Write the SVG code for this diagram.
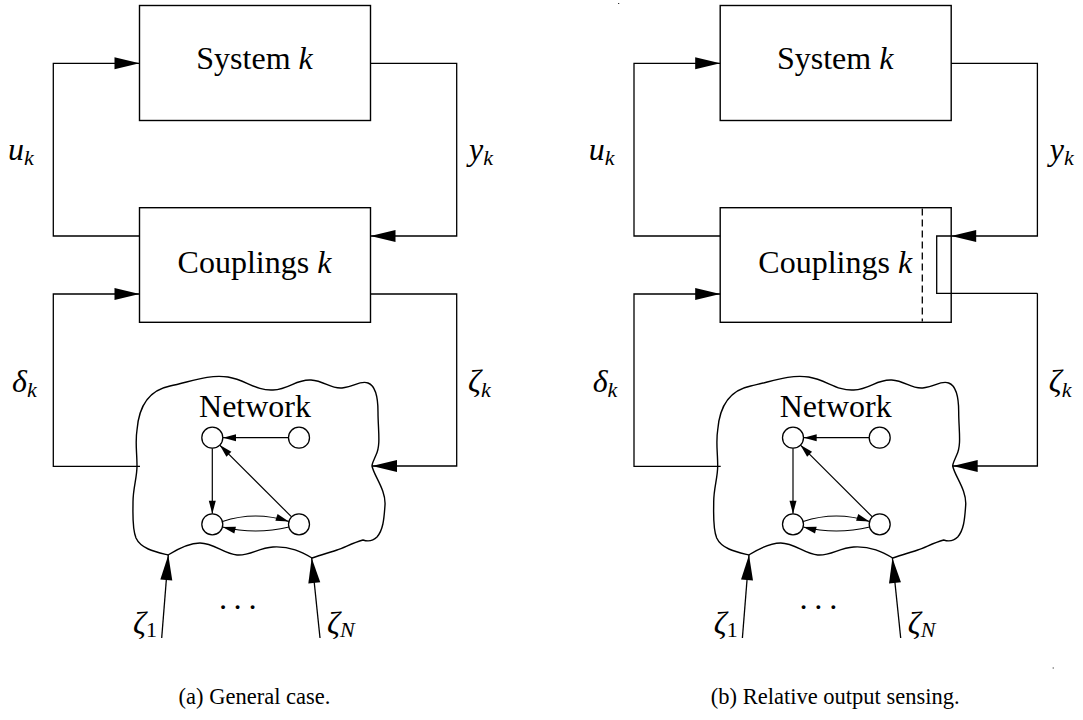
<svg xmlns="http://www.w3.org/2000/svg" width="1083" height="720" viewBox="0 0 1083 720">
  <style>
    .box { fill: #fff; stroke: #000; stroke-width: 1.4; }
    .wire { fill: none; stroke: #000; stroke-width: 1.3; }
    .big { marker-end: url(#bigArrow); }
    .edge { fill: none; stroke: #000; stroke-width: 1.2; marker-end: url(#smallArrow); }
    .node { fill: #fff; stroke: #000; stroke-width: 1.3; }
    .cloud { fill: #fff; stroke: #000; stroke-width: 1.4; }
    .dash { fill: none; stroke: #000; stroke-width: 1.3; stroke-dasharray: 7 4; }
    text { font-family: "Liberation Serif", "Times New Roman", serif; fill: #000; }
    .title { font-size: 32px; text-anchor: middle; }
    .math { font-size: 32px; font-style: italic; }
    .sub { font-size: 22px; font-style: italic; }
    .subr { font-size: 22px; font-style: normal; }
    .cap { font-size: 22.5px; text-anchor: middle; }
  </style>
  <defs>
    <marker id="bigArrow" markerUnits="userSpaceOnUse" markerWidth="25" markerHeight="12" refX="25" refY="6" orient="auto" overflow="visible">
      <path d="M0,0 L25,6 L0,12 Z" fill="#000"/>
    </marker>
    <marker id="smallArrow" markerUnits="userSpaceOnUse" markerWidth="13" markerHeight="7" refX="13" refY="3.5" orient="auto" overflow="visible">
      <path d="M0,0 L13,3.5 L0,7 Z" fill="#000"/>
    </marker>
    <!-- network cloud outline shared by both panels -->
    <path id="cloudShape" d="M168,555 C156,552 141,549 136,538 C132,528 133,515 133,502 C133,488 137,478 137,466 C137,452 135,442 137,430 C139,405 150,390 170,386 C190,382 208,374 228,377 C246,380 256,391 273,390 C290,389 296,379 311,380 C325,381 330,389 342,388 C354,387 360,380 368,383 C376,386 378,398 378,412 C378,430 381,445 376,455 C374,460 372,463 372,466 C374,476 386,490 385,505 C384,520 383,530 377,537 C372,542 366,541 363,540 C352,543 344,548 337,550 C328,553 318,556 312,558 C302,552 290,546 273,547 C258,548 250,556 237,555 C224,554 214,543 200,543 C188,543 176,550 168,555 Z"/>
  </defs>

  <!-- ===== Panel (a): general case ===== -->
  <g id="panel-a">
    <g id="a-system">
      <rect class="box" x="139.5" y="5.5" width="231" height="115"/>
      <text class="title" x="254.5" y="69">System <tspan font-style="italic">k</tspan></text>
    </g>
    <g id="a-couplings">
      <rect class="box" x="139.5" y="207.7" width="231" height="114.6"/>
      <text class="title" x="254.5" y="273">Couplings <tspan font-style="italic">k</tspan></text>
    </g>
    <g id="a-network">
      <use href="#cloudShape" class="cloud"/>
      <text class="title" x="255" y="417">Network</text>
      <g id="a-net-edges">
        <line class="edge" x1="288.5" y1="437.7" x2="223" y2="437.7"/>
        <line class="edge" x1="212.3" y1="448.2" x2="212.3" y2="513.8"/>
        <line class="edge" x1="291.6" y1="516.9" x2="219.7" y2="445.1"/>
        <path class="edge" d="M222.5,521.5 Q255.6,510.5 288.8,521.5"/>
        <path class="edge" d="M289,527 Q255.6,535 222.5,527"/>
      </g>
      <circle class="node" cx="212.3" cy="437.7" r="10.5"/>
      <circle class="node" cx="299" cy="437.7" r="10.5"/>
      <circle class="node" cx="212.3" cy="524.3" r="10.5"/>
      <circle class="node" cx="299" cy="524.3" r="10.5"/>
    </g>
    <g id="a-connectors">
      <path class="wire big" d="M139.5,236 H53.3 V63.3 H139.5"/>
      <path class="wire big" d="M370.5,63.3 H456.7 V236 H370.5"/>
      <path class="wire big" d="M140,466.3 H53.3 V294 H139.5"/>
      <path class="wire big" d="M370.5,294 H456.7 V466 H372"/>
      <path class="wire big" d="M161.7,638 L168.3,555"/>
      <path class="wire big" d="M320,638 L311.7,558"/>
    </g>
    <g id="a-labels">
      <text class="math" x="8" y="160">u<tspan class="sub" dy="5">k</tspan></text>
      <text class="math" x="469" y="160">y<tspan class="sub" dy="5">k</tspan></text>
      <text class="math" x="12" y="392">δ<tspan class="sub" dy="5">k</tspan></text>
      <text class="math" x="468" y="392">ζ<tspan class="sub" dy="5">k</tspan></text>
      <text class="math" x="133" y="634">ζ<tspan class="subr" dy="3">1</tspan></text>
      <text class="math" x="327" y="634">ζ<tspan class="sub" dy="3">N</tspan></text>
      <text font-size="32" text-anchor="middle" x="223 237.7 252.7" y="618">···</text>
    </g>
    <text class="cap" x="254.5" y="704">(a) General case.</text>
  </g>

  <!-- ===== Panel (b): relative output sensing ===== -->
  <g id="panel-b" transform="translate(580.7,0)">
    <g id="b-system">
      <rect class="box" x="139.5" y="5.5" width="231" height="115"/>
      <text class="title" x="254.5" y="69">System <tspan font-style="italic">k</tspan></text>
    </g>
    <g id="b-couplings">
      <rect class="box" x="139.5" y="207.7" width="231" height="114.6"/>
      <line class="dash" x1="341.6" y1="208.5" x2="341.6" y2="321.5"/>
      <text class="title" x="254.5" y="273">Couplings <tspan font-style="italic">k</tspan></text>
    </g>
    <g id="b-network">
      <use href="#cloudShape" class="cloud"/>
      <text class="title" x="255" y="417">Network</text>
      <g id="b-net-edges">
        <line class="edge" x1="288.5" y1="437.7" x2="223" y2="437.7"/>
        <line class="edge" x1="212.3" y1="448.2" x2="212.3" y2="513.8"/>
        <line class="edge" x1="291.6" y1="516.9" x2="219.7" y2="445.1"/>
        <path class="edge" d="M222.5,521.5 Q255.6,510.5 288.8,521.5"/>
        <path class="edge" d="M289,527 Q255.6,535 222.5,527"/>
      </g>
      <circle class="node" cx="212.3" cy="437.7" r="10.5"/>
      <circle class="node" cx="299" cy="437.7" r="10.5"/>
      <circle class="node" cx="212.3" cy="524.3" r="10.5"/>
      <circle class="node" cx="299" cy="524.3" r="10.5"/>
    </g>
    <g id="b-connectors">
      <path class="wire big" d="M139.5,236 H53.3 V63.3 H139.5"/>
      <path class="wire big" d="M370.5,63.3 H456.7 V236 H370.5"/>
      <!-- relative sensing: measured output is looped back inside the coupling block -->
      <path class="wire" d="M370.5,236 H356 V293.3 H456.7"/>
      <path class="wire big" d="M140,466.3 H53.3 V294 H139.5"/>
      <path class="wire big" d="M456.7,293.3 V466 H372"/>
      <path class="wire big" d="M161.7,638 L168.3,555"/>
      <path class="wire big" d="M320,638 L311.7,558"/>
    </g>
    <g id="b-labels">
      <text class="math" x="8" y="160">u<tspan class="sub" dy="5">k</tspan></text>
      <text class="math" x="469" y="160">y<tspan class="sub" dy="5">k</tspan></text>
      <text class="math" x="12" y="392">δ<tspan class="sub" dy="5">k</tspan></text>
      <text class="math" x="468" y="392">ζ<tspan class="sub" dy="5">k</tspan></text>
      <text class="math" x="133" y="634">ζ<tspan class="subr" dy="3">1</tspan></text>
      <text class="math" x="327" y="634">ζ<tspan class="sub" dy="3">N</tspan></text>
      <text font-size="32" text-anchor="middle" x="223 237.7 252.7" y="618">···</text>
    </g>
    <text class="cap" x="254.5" y="704">(b) Relative output sensing.</text>
    <rect x="37.5" y="3" width="1" height="1" fill="#000"/>
    <rect x="472" y="667.5" width="1" height="1" fill="#000"/>
  </g>
</svg>
